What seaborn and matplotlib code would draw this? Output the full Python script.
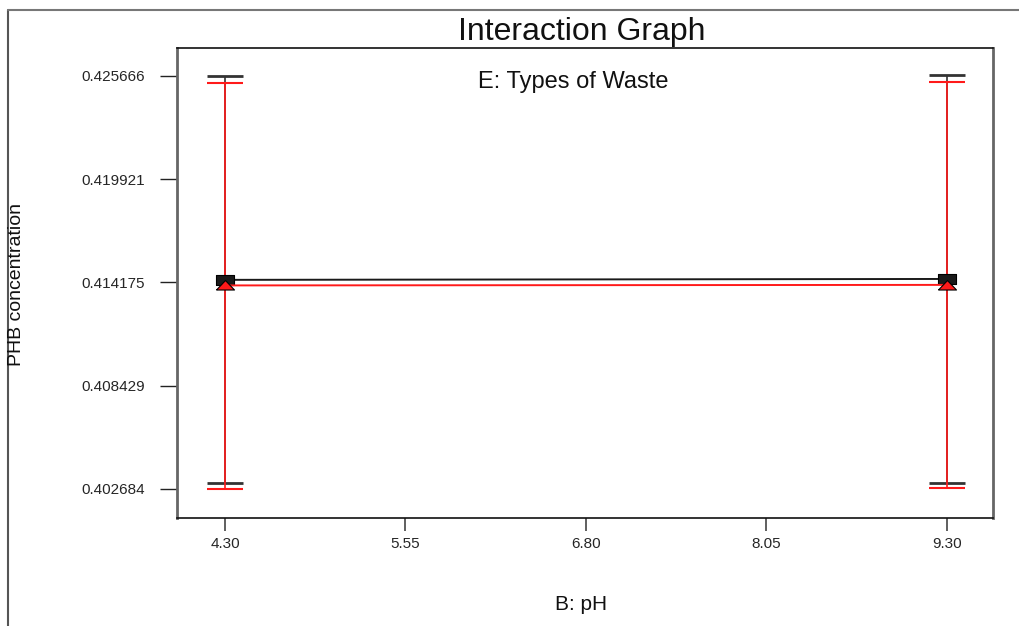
import seaborn as sns
import matplotlib.pyplot as plt
import pandas as pd
import numpy as np
from matplotlib.lines import Line2D

sns.set_style("white")
plt.rcParams["font.family"] = ["Liberation Sans", "DejaVu Sans"]

# Values
ph = [4.30, 9.30]
waste_levels = ["Waste 1", "Waste 2"]
mean_w1 = [0.41432, 0.41437]
low_w1 = [0.40302, 0.40304]
high_w1 = [0.42566, 0.42569]
mean_w2 = [0.41401, 0.41404]
low_w2 = [0.40268, 0.40272]
high_w2 = [0.42530, 0.42533]

y_ticks = [0.402684, 0.408429, 0.414175, 0.419921, 0.425666]
y_tick_labels = ["0.402684", "0.408429", "0.414175", "0.419921", "0.425666"]
x_ticks = [4.30, 5.55, 6.80, 8.05, 9.30]
x_tick_labels = ["4.30", "5.55", "6.80", "8.05", "9.30"]

df = pd.DataFrame({
    "pH": ph * 2,
    "PHB": mean_w1 + mean_w2,
    "Waste": [waste_levels[0]] * 2 + [waste_levels[1]] * 2,
})

colors = {"Waste 1": "#1a1a1a", "Waste 2": "#ff1a1a"}
rect = [(-1, -0.6), (1, -0.6), (1, 0.6), (-1, 0.6), (-1, -0.6)]
tri = [(-1, -0.5), (1, -0.5), (0, 0.55), (-1, -0.5)]

fig = plt.figure(figsize=(10.19, 6.26), dpi=100)
ax = fig.add_axes([177 / 1019, 1 - 518 / 626, 816 / 1019, 470 / 626])

# error bars
ax.errorbar(ph, mean_w1,
            yerr=[np.array(mean_w1) - np.array(low_w1), np.array(high_w1) - np.array(mean_w1)],
            fmt="none", ecolor="#333333", elinewidth=1.2, capsize=13, capthick=2, zorder=2)
ax.errorbar(ph, mean_w2,
            yerr=[np.array(mean_w2) - np.array(low_w2), np.array(high_w2) - np.array(mean_w2)],
            fmt="none", ecolor="#ff1a1a", elinewidth=1.2, capsize=13, capthick=1.5, zorder=3)

sns.lineplot(data=df, x="pH", y="PHB", hue="Waste", style="Waste",
             palette=colors, markers={"Waste 1": rect, "Waste 2": tri},
             dashes=False, markersize=13, markeredgecolor="black",
             markeredgewidth=0.8, linewidth=1.4, legend=False, ax=ax, zorder=4)

ax.set_xlim(3.968, 9.619)
ax.set_ylim(0.40107, 0.42722)
ax.set_xticks(x_ticks)
ax.set_xticklabels(x_tick_labels)
ax.set_yticks(y_ticks)
ax.set_yticklabels(y_tick_labels)
ax.tick_params(axis="y", direction="out", length=12, width=1, pad=11, labelsize=11,
               color="#222222", left=True)
ax.tick_params(axis="x", direction="out", length=9, width=1.2, pad=5, labelsize=11,
               color="#444444", bottom=True)
ax.set_xlabel("")
ax.set_ylabel("")

for side in ["left", "right"]:
    ax.spines[side].set_color("#666666")
    ax.spines[side].set_linewidth(2)
for side in ["top", "bottom"]:
    ax.spines[side].set_color("#111111")
    ax.spines[side].set_linewidth(1.2)

fig.text(582 / 1019, 1 - 32 / 626, "Interaction Graph", ha="center", va="center",
         fontsize=23, color="#111111")
ax.text(0.485, 0.928, "E: Types of Waste", transform=ax.transAxes, ha="center",
        va="center", fontsize=17, color="#111111")
fig.text(17 / 1019, 1 - 284 / 626, "PHB concentration", rotation=90, ha="center",
         va="center", fontsize=14, color="#111111")
fig.text(581 / 1019, 1 - 605 / 626, "B: pH", ha="center", va="center",
         fontsize=15, color="#111111")

# page frame
fig.add_artist(Line2D([8 / 1019, 8 / 1019], [0, 1 - 10 / 626], transform=fig.transFigure,
                      color="#555555", lw=1.5))
fig.add_artist(Line2D([8 / 1019, 1], [1 - 10 / 626, 1 - 10 / 626], transform=fig.transFigure,
                      color="#777777", lw=1.5))

fig.savefig("out.png", dpi=100)
plt.close(fig)
